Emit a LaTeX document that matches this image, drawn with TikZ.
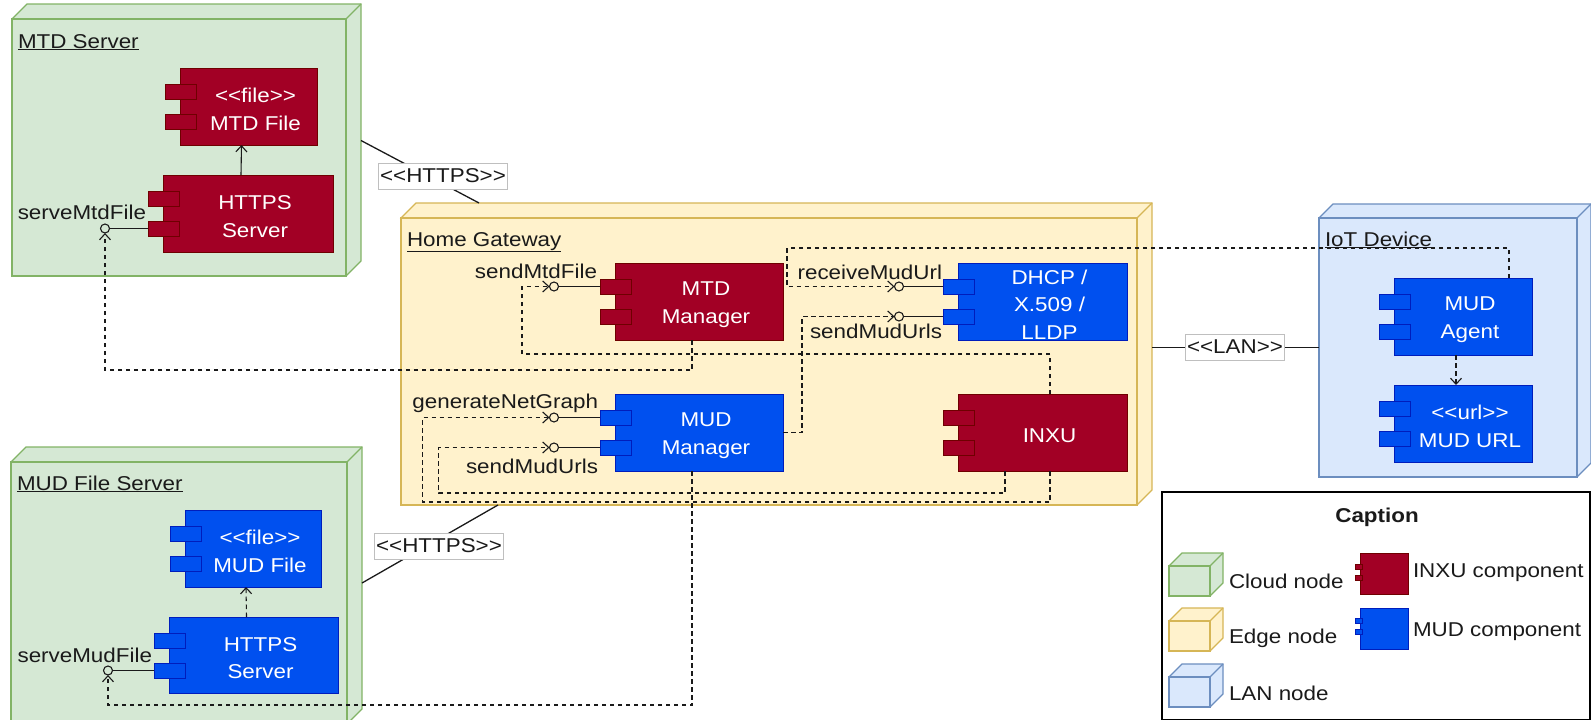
\documentclass[tikz,border=0pt]{standalone}
\usepackage{fontspec}
\setmainfont{Liberation Sans}[FakeStretch=1.12,Ligatures=TeXOff]
\usetikzlibrary{arrows.meta,calc}

\definecolor{cloudfill}{HTML}{D5E8D4}
\definecolor{cloudline}{HTML}{82B366}
\definecolor{edgefill}{HTML}{FFF2CC}
\definecolor{edgeline}{HTML}{D6B656}
\definecolor{lanfill}{HTML}{DAE8FC}
\definecolor{lanline}{HTML}{6C8EBF}
\definecolor{inxufill}{HTML}{A20025}
\definecolor{inxuline}{HTML}{6F0000}
\definecolor{mudfill}{HTML}{0050EF}
\definecolor{mudline}{HTML}{001DBC}
\definecolor{ink}{HTML}{1A1A1A}

\tikzset{
  every node/.style={font=\fontsize{20}{27.5}\selectfont, outer sep=0pt},
  cloud node/.style={fill=cloudfill, draw=cloudline, line width=1.3pt},
  edge node/.style={fill=edgefill, draw=edgeline, line width=1.3pt},
  lan node/.style={fill=lanfill, draw=lanline, line width=1.3pt},
  inxu comp/.style={fill=inxufill, draw=inxuline, line width=1pt, inner sep=0pt},
  mud comp/.style={fill=mudfill, draw=mudline, line width=1pt, inner sep=0pt},
  comp text/.style={text=white, align=center, inner sep=0pt},
  title/.style={text=ink, inner sep=0pt},
  iface/.style={text=ink, inner sep=0pt},
  lolli/.style={circle, draw=ink, line width=1.1pt, minimum size=9pt, inner sep=0pt},
  wire/.style={draw=ink, line width=1.3pt},
  usage/.style={draw=ink, line width=1.1pt, -{Straight Barb[length=6pt,width=11pt,line width=1.1pt]}},
  dep/.style={usage, dash pattern=on 4.5pt off 3.5pt},
  tag/.style={fill=white, draw=black!25, line width=0.8pt, text=ink, inner xsep=1.5pt, inner ysep=0pt, minimum height=26pt},
}

% 3D deployment box: [depth]{name}{style}{x1}{y1}{x2}{y2} (front face corners)
\newcommand\deploybox[7][15]{%
  \filldraw[#3] (#4,#5) -- ++(#1,-#1) -- (#6+#1,#5-#1) -- (#6+#1,#7-#1) -- (#6,#7) -- cycle;
  \draw[#3] (#6,#5) -- ++(#1,-#1);
  \node[#3, anchor=north west, inner sep=0pt, minimum width={#6-#4}, minimum height={#7-#5}] (#2) at (#4,#5) {};
}

% UML component with two ports: {name}{kind}{x1}{y1}{x2}{y2}{text}
\newcommand\component[7]{%
  \node[#2 comp, anchor=north west, minimum width={#5-#3}, minimum height={#6-#4}] (#1) at (#3,#4) {};
  \node[#2 comp, anchor=north west, minimum width=31pt, minimum height=15pt] (#1-p1) at ($(#1.north west)+(-15,16)$) {};
  \node[#2 comp, anchor=north west, minimum width=31pt, minimum height=15pt] (#1-p2) at ($(#1.north west)+(-15,46)$) {};
  \node[comp text] (#1-text) at ($(#1.center)+(7,3)$) {#7};
}

\begin{document}
\begin{tikzpicture}[x=1pt,y=-1pt]
\useasboundingbox (0,0) rectangle (1591,720);
\clip (0,0) rectangle (1591,720);

% deployment nodes
\deploybox{mtdsrv}{cloud node}{12}{19}{346}{276}
\deploybox{mudsrv}{cloud node}{11}{462}{347}{724}
\deploybox{gw}{edge node}{401}{218}{1137}{505}
\deploybox[14]{iot}{lan node}{1319}{218}{1577}{477}

\node[title, anchor=base west] (mtdsrv-title) at (18,48) {\underline{MTD Server}};
\node[title, anchor=base west] (mudsrv-title) at (17,490) {\underline{MUD File Server}};
\node[title, anchor=base west] (gw-title) at (407,246) {\underline{Home Gateway}};
\node[title, anchor=base west] (iot-title) at (1325,246) {\underline{IoT Device}};

% communication paths
\draw[wire] ([xshift=15pt,yshift=7pt]mtdsrv.east) -- ([xshift=78pt,yshift=15pt]gw.north west);
\node[tag] (https-top) at (443,176) {<<HTTPS>>};
\draw[wire] ([xshift=15pt,yshift=-121pt]mudsrv.north east) -- ([xshift=97pt]gw.south west);
\node[tag] (https-bot) at (439,546) {<<HTTPS>>};
\draw[wire] ($(gw.east |- iot.west)+(15,0)$) -- (iot.west);
\node[tag] (lan) at (1235,347) {<<LAN>>};

% components
\component{mtdfile}{inxu}{180}{68}{317}{145}{<<file>>\\MTD File}
\component{mtdhttps}{inxu}{163}{175}{333}{252}{HTTPS\\Server}
\component{mtdmgr}{inxu}{615}{263}{783}{340}{MTD\\Manager}
\component{mudmgr}{mud}{615}{394}{783}{471}{MUD\\Manager}
\component{dhcp}{mud}{958}{263}{1127}{340}{DHCP /\\X.509 /\\LLDP}
\component{inxu}{inxu}{958}{394}{1127}{471}{INXU}
\component{agent}{mud}{1394}{278}{1532}{355}{MUD\\Agent}
\component{mudurl}{mud}{1394}{385}{1532}{462}{<<url>>\\MUD URL}
\component{mudfile}{mud}{185}{510}{321}{587}{<<file>>\\MUD File}
\component{mudhttps}{mud}{169}{617}{338}{693}{HTTPS\\Server}

% provided interfaces
\node[lolli] (c-servemtd) at (105,228.5) {};
\node[lolli] (c-sendmtd) at (554,286.5) {};
\node[lolli] (c-gen) at (554,417.5) {};
\node[lolli] (c-sendurls) at (554,447.5) {};
\node[lolli] (c-recv) at (899,286.5) {};
\node[lolli] (c-sendurls2) at (899,316.5) {};
\node[lolli] (c-servemud) at (108,670.5) {};

\draw[wire] (c-servemtd.east) -- (mtdhttps-p2.west);
\draw[wire] (c-sendmtd.east) -- (mtdmgr-p1.west);
\draw[wire] (c-gen.east) -- (mudmgr-p1.west);
\draw[wire] (c-sendurls.east) -- (mudmgr-p2.west);
\draw[wire] (c-recv.east) -- (dhcp-p1.west);
\draw[wire] (c-sendurls2.east) -- (dhcp-p2.west);
\draw[wire] (c-servemud.east) -- (mudhttps-p2.west);

\node[iface, anchor=base east] (l-servemtd) at (146,219) {serveMtdFile};
\node[iface, anchor=base east] (l-sendmtd) at (597,278) {sendMtdFile};
\node[iface, anchor=base east] (l-gen) at (598,408) {generateNetGraph};
\node[iface, anchor=base east] (l-sendurls) at (598,473) {sendMudUrls};
\node[iface, anchor=base east] (l-recv) at (942,279) {receiveMudUrl};
\node[iface, anchor=base east] (l-sendurls2) at (942,338) {sendMudUrls};
\node[iface, anchor=base east] (l-servemud) at (152,662) {serveMudFile};

% dependencies
\draw[usage] ([xshift=-7pt]mtdhttps.north) -- ($(mtdfile.south)+(-7,0)$);
\draw[dep] ([xshift=-7pt]mudhttps.north) -- ($(mudfile.south)+(-7,0)$);
\draw[dep] ([xshift=-7pt]agent.south) -- ([xshift=-7pt]mudurl.north);
\draw[dep] ([xshift=-7pt]mtdmgr.south) -- ++(0,30) -| (c-servemtd.south);
\draw[dep] ([xshift=7.5pt]inxu.north) -- ++(0,-40) -| ([xshift=-27.5pt]c-sendmtd.west) -- (c-sendmtd.west);
\draw[dep] ([xshift=7.5pt]inxu.south) -- ++(0,31) -| ([xshift=-127pt]c-gen.west) -- (c-gen.west);
\draw[dep] ([xshift=-37.5pt]inxu.south) -- ++(0,22) -| ([xshift=-111pt]c-sendurls.west) -- (c-sendurls.west);
\draw[dep] (mudmgr.east) -- ++(19,0) |- (c-sendurls2.west);
\draw[dep] ([xshift=46pt]agent.north) -- ++(0,-30) -| ([xshift=-107.5pt]c-recv.west) -- (c-recv.west);
\draw[dep] ([xshift=-7pt]mudmgr.south) -- ++(0,234) -| (c-servemud.south);

% legend
\node[draw=black, line width=1.6pt, anchor=north west, minimum width=428pt, minimum height=228pt, inner sep=0pt] (legend) at (1162,492) {};
\node[title, anchor=base] (legend-title) at (1377,522) {\bfseries Caption};
\deploybox[13]{leg-cloud}{cloud node}{1169}{566}{1210}{596}
\deploybox[13]{leg-edge}{edge node}{1169}{621}{1210}{651}
\deploybox[13]{leg-lan}{lan node}{1169}{677}{1210}{707}
\node[iface, anchor=base west] (leg-cloud-t) at (1229,588) {Cloud node};
\node[iface, anchor=base west] (leg-edge-t) at (1229,643) {Edge node};
\node[iface, anchor=base west] (leg-lan-t) at (1229,700) {LAN node};
\node[inxu comp, anchor=north west, minimum width=48pt, minimum height=41pt] (leg-inxu) at (1360,553) {};
\node[inxu comp, anchor=north west, minimum width=7pt, minimum height=5pt] (leg-inxu-p1) at (1355,564) {};
\node[inxu comp, anchor=north west, minimum width=7pt, minimum height=5pt] (leg-inxu-p2) at (1355,575) {};
\node[mud comp, anchor=north west, minimum width=48pt, minimum height=41pt] (leg-mud) at (1360,608) {};
\node[mud comp, anchor=north west, minimum width=7pt, minimum height=5pt] (leg-mud-p1) at (1355,618) {};
\node[mud comp, anchor=north west, minimum width=7pt, minimum height=5pt] (leg-mud-p2) at (1355,629) {};
\node[iface, anchor=base west] (leg-inxu-t) at (1413,577) {INXU component};
\node[iface, anchor=base west] (leg-mud-t) at (1413,636) {MUD component};
\end{tikzpicture}
\end{document}
